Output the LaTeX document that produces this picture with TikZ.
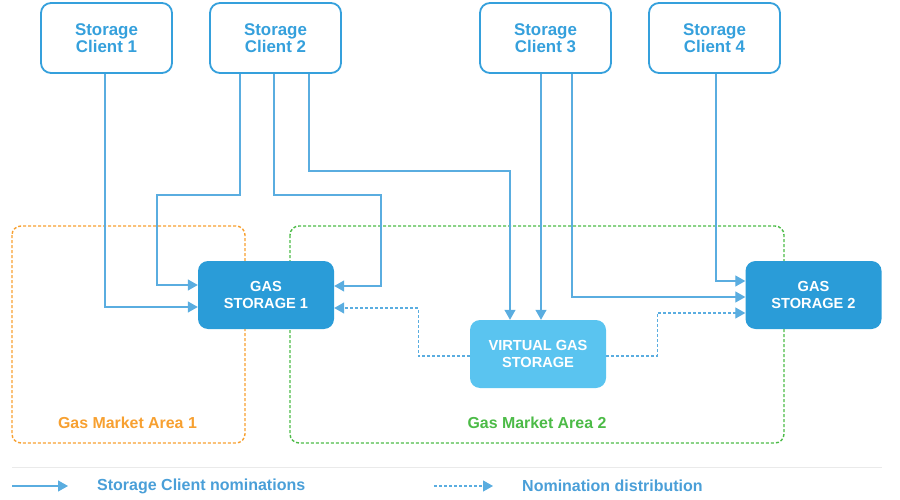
\documentclass[tikz,border=0pt]{standalone}
\usepackage{fontspec}
\setmainfont{Liberation Sans}
\usetikzlibrary{arrows.meta,calc}
\definecolor{cblue}{HTML}{35A0DC}
\definecolor{lblue}{HTML}{5AADE0}
\definecolor{gsblue}{HTML}{2A9CD8}
\definecolor{vblue}{HTML}{5AC4F0}
\definecolor{aorange}{HTML}{F7A030}
\definecolor{agreen}{HTML}{4CBB47}
\definecolor{sepgray}{HTML}{EAEAEA}
\definecolor{legblue}{HTML}{4A9FD8}
\tikzset{
  client/.style={draw=cblue, line width=1.8pt, rounded corners=10pt, fill=white,
    minimum width=131pt, minimum height=70pt, align=center, text=cblue,
    font=\fontsize{16.9}{17}\selectfont\bfseries, inner sep=0pt},
  gs/.style={fill=gsblue, rounded corners=10pt, minimum width=136pt, minimum height=68pt,
    align=center, text=white, font=\fontsize{14.6}{17}\selectfont\bfseries, inner sep=0pt},
  vgs/.style={gs, fill=vblue},
  nom/.style={draw=lblue, line width=1.2pt, -{Triangle[length=10pt,width=11pt]}},
  dist/.style={nom, dash pattern=on 3pt off 2pt},
  area/.style={line width=1.4pt, dash pattern=on 3pt off 2pt, rounded corners=9pt},
  arealabel/.style={font=\fontsize{15.9}{17}\selectfont\bfseries},
  legtext/.style={font=\fontsize{16}{17}\selectfont\bfseries, text=legblue, anchor=west, inner sep=0pt}
}
\begin{document}
\begin{tikzpicture}[x=1pt,y=-1pt]
\useasboundingbox (0,0) rectangle (900,500);
% areas
\draw[area, draw=aorange] (12,226) rectangle (245,443);
\draw[area, draw=agreen] (290,226) rectangle (784,443);
\node[arealabel, text=aorange] (l1) at (127.5,423) {Gas Market Area 1};
\node[arealabel, text=agreen] (l2) at (537,423) {Gas Market Area 2};
% clients
\node[client] (c1) at (106.5,38) {Storage\\Client 1};
\node[client] (c2) at (275.5,38) {Storage\\Client 2};
\node[client] (c3) at (545.5,38) {Storage\\Client 3};
\node[client] (c4) at (714.5,38) {Storage\\Client 4};
% storages
\node[gs] (gs1) at (266,295) {GAS\\STORAGE 1};
\node[gs] (gs2) at (813.5,295) {GAS\\STORAGE 2};
\node[vgs] (vgs) at (538,354) {VIRTUAL GAS\\STORAGE};
% nominations
\draw[nom] ($(c1.south)+(-1.5,0)$) |- ($(gs1.west)+(0,12)$);
\draw[nom] ($(c2.south)+(-35.5,0)$) |- (157,195) |- ($(gs1.west)+(0,-10)$);
\draw[nom] ($(c2.south)+(-1.5,0)$) |- (381,195) |- ($(gs1.east)+(0,-9)$);
\draw[nom] ($(c2.south)+(33.5,0)$) |- (510,171) -- ($(vgs.north)+(-28,0)$);
\draw[nom] ($(c3.south)+(-4.5,0)$) -- ($(vgs.north)+(3,0)$);
\draw[nom] ($(c3.south)+(26.5,0)$) |- ($(gs2.west)+(0,2)$);
\draw[nom] ($(c4.south)+(1.5,0)$) |- ($(gs2.west)+(0,-14)$);
% distribution
\draw[dist] ($(vgs.west)+(0,2)$) -| ($(gs1.east)+(84,13)$) -- ($(gs1.east)+(0,13)$);
\draw[dist] ($(vgs.east)+(0,2)$) -| ($(gs2.west)+(-88,18)$) -- ($(gs2.west)+(0,18)$);
% legend
\draw[sepgray, line width=1pt] (12,467) -- (882,467);
\coordinate (la) at (12,486);
\coordinate (lb) at (68,486);
\coordinate (lc) at (434,486);
\coordinate (ld) at (493,486);
\draw[nom] (la) -- (lb);
\draw[dist] (lc) -- (ld);
\node[legtext] (t1) at (97,486) {Storage Client nominations};
\node[legtext] (t2) at (522,486) {Nomination distribution};
\end{tikzpicture}
\end{document}
